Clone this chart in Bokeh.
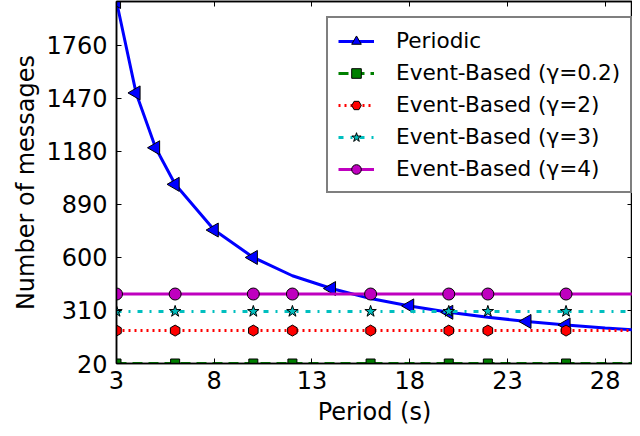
import math
from bokeh.plotting import figure
from bokeh.models import Range1d, FixedTicker, LinearAxis, Legend, LegendItem
from bokeh.embed import file_html
from bokeh.resources import INLINE

# ---- data ----
periods = [3, 4, 5, 6, 8, 10, 12, 14, 16, 18, 20, 22, 24, 26, 28, 30]
periodic_msgs = [2000, 1500, 1200, 1000, 750, 600, 500, 430, 375, 335, 300, 273, 250, 231, 214, 200]
periodic_mark_x = [3, 4, 5, 6, 8, 10, 14, 18, 20, 24, 26]
periodic_mark_y = [2000, 1500, 1200, 1000, 750, 600, 430, 335, 300, 250, 231]

event_x = [3, 6, 10, 12, 16, 20, 22, 26, 30]
event_g02 = [20, 20, 20, 20, 20, 20, 20, 20, 20]
event_g2 = [200, 200, 200, 200, 200, 200, 200, 200, 200]
event_g3 = [305, 305, 305, 305, 305, 305, 305, 305, 305]
event_g4 = [400, 400, 400, 400, 400, 400, 400, 400, 400]

x_ticks = [3, 8, 13, 18, 23, 28]
y_ticks = [20, 310, 600, 890, 1180, 1470, 1760]

labels = ["Periodic", "Event-Based (γ=0.2)", "Event-Based (γ=2)",
          "Event-Based (γ=3)", "Event-Based (γ=4)"]

FONT = "DejaVu Sans"

p = figure(width=632, height=428, output_backend="svg", toolbar_location=None,
           x_range=Range1d(3, 29.4), y_range=Range1d(20, 2000),
           min_border_left=116, min_border_right=0, min_border_top=1,
           min_border_bottom=0)
p.background_fill_color = "white"
p.border_fill_color = "white"
p.outline_line_color = "black"
p.outline_line_width = 1.5
p.xgrid.visible = False
p.ygrid.visible = False

def style_axis(ax, show_labels=True, ticks=None):
    ax.axis_line_color = "black"
    ax.axis_line_width = 1.5
    ax.major_tick_in = 5
    ax.major_tick_out = 0
    ax.minor_tick_in = 0
    ax.minor_tick_out = 0
    ax.major_tick_line_color = "black"
    ax.major_label_text_font = FONT
    ax.major_label_text_color = "black"
    ax.axis_label_text_font = FONT
    ax.axis_label_text_font_style = "normal"
    ax.axis_label_text_color = "black"
    if show_labels:
        ax.major_label_text_font_size = "24px"
        ax.axis_label_text_font_size = "24px"
        ax.major_label_standoff = 9
    else:
        ax.major_label_overrides = {t: "" for t in ticks}
        ax.major_label_text_font_size = "1px"
        ax.major_label_standoff = 0

xa = p.xaxis[0]
ya = p.yaxis[0]
xa.ticker = FixedTicker(ticks=x_ticks)
ya.ticker = FixedTicker(ticks=y_ticks)
style_axis(xa)
style_axis(ya)
xa.axis_label = "Period (s)"
ya.axis_label = "Number of messages"
xa.major_label_standoff = 7
xa.axis_label_standoff = 6
ya.axis_label_standoff = 3

top = LinearAxis(ticker=FixedTicker(ticks=x_ticks))
right = LinearAxis(ticker=FixedTicker(ticks=y_ticks))
style_axis(top, False, x_ticks)
style_axis(right, False, y_ticks)
p.add_layout(top, "above")
p.add_layout(right, "right")

# Periodic
l0 = p.line(periods, periodic_msgs, line_color="#0000ff", line_width=3)
m0 = p.scatter(periodic_mark_x, periodic_mark_y, marker="triangle", angle=math.pi / 2,
               size=14, fill_color="#0000ff", line_color="black", line_width=1)

# Event based
l1 = p.line(event_x, event_g02, line_color="#008000", line_width=3, line_dash="10 6")
m1 = p.scatter(event_x, event_g02, marker="square", size=9,
               fill_color="#008000", line_color="black", line_width=1)

l2 = p.line(event_x, event_g2, line_color="#ff0000", line_width=3, line_dash="2 4")
m2 = p.scatter(event_x, event_g2, marker="hex", angle=math.pi / 2, size=11,
               fill_color="#ff0000", line_color="black", line_width=1)

l3 = p.line(event_x, event_g3, line_color="#00bfbf", line_width=3, line_dash="5 7 2 7")
m3 = p.scatter(event_x, event_g3, marker="star", size=12,
               fill_color="#00bfbf", line_color="black", line_width=1)

l4 = p.line(event_x, event_g4, line_color="#bf00bf", line_width=3)
m4 = p.scatter(event_x, event_g4, marker="circle", size=12,
               fill_color="#bf00bf", line_color="black", line_width=1)

legend = Legend(items=[
    LegendItem(label=labels[0], renderers=[l0, m0]),
    LegendItem(label=labels[1], renderers=[l1, m1]),
    LegendItem(label=labels[2], renderers=[l2, m2]),
    LegendItem(label=labels[3], renderers=[l3, m3]),
    LegendItem(label=labels[4], renderers=[l4, m4]),
])
legend.location = (210, 170)
legend.margin = 0
legend.padding = 10
legend.spacing = 7
legend.glyph_width = 36
legend.glyph_height = 24
legend.label_height = 24
legend.label_standoff = 22
legend.label_text_font = FONT
legend.label_text_font_size = "21.6px"
legend.label_text_color = "black"
legend.border_line_color = "black"
legend.border_line_width = 2
legend.background_fill_color = "white"
legend.background_fill_alpha = 1.0
p.add_layout(legend)

open("out.html", "w").write(file_html(p, INLINE))
